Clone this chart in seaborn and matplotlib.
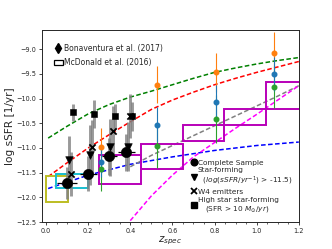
import matplotlib
matplotlib.use("Agg")
import matplotlib.pyplot as plt
from matplotlib.lines import Line2D
from matplotlib.patches import Patch, Rectangle
from matplotlib.ticker import MultipleLocator
import pandas as pd
import seaborn as sns

# model curves
green_z = [0.01, 0.1, 0.2, 0.3, 0.4, 0.5, 0.6, 0.7, 0.8, 0.9, 1.0, 1.1, 1.2]
green_v = [-10.80, -10.56, -10.31, -10.12, -9.97, -9.85, -9.72, -9.59, -9.47, -9.38, -9.30, -9.23, -9.17]
red_z = [0.01, 0.1, 0.2, 0.3, 0.4, 0.5, 0.6, 0.7, 0.8, 0.9, 1.0, 1.1, 1.2]
red_v = [-11.58, -11.30, -11.00, -10.73, -10.47, -10.22, -10.03, -9.87, -9.72, -9.59, -9.47, -9.36, -9.25]
blue_z = [0.01, 0.2, 0.4, 0.6, 0.8, 1.0, 1.2]
blue_v = [-11.82, -11.55, -11.33, -11.18, -11.05, -10.95, -10.88]
gray_z = [0.40, 0.5, 0.6, 0.7, 0.8, 0.9, 1.0, 1.1, 1.2]
gray_v = [-11.38, -11.15, -10.95, -10.75, -10.55, -10.35, -10.15, -9.95, -9.74]
mag_z = [0.40, 0.5, 0.6, 0.7, 0.8, 0.9, 1.0, 1.1, 1.2]
mag_v = [-12.47, -11.97, -11.55, -11.18, -10.89, -10.60, -10.32, -10.03, -9.74]

# Bonaventura et al. (2017)
bon_z = [0.26, 0.527, 0.805, 1.08]
bon_orange = [-10.97, -9.72, -9.47, -9.08]
bon_orange_err = [0.38, 0.37, 0.40, 0.42]
bon_blue = [-11.29, -10.53, -10.07, -9.50]
bon_blue_err = [0.30, 0.35, 0.35, 0.35]
bon_green = [-11.42, -10.96, -10.41, -9.77]
bon_green_err = [0.46, 0.44, 0.48, 0.42]

# McDonald et al. (2016) boxes + two local boxes
box_zlo = [0.253, 0.449, 0.649, 0.846, 1.045, 0.0, 0.046]
box_zhi = [0.449, 0.649, 0.846, 1.045, 1.25, 0.105, 0.198]
box_vlo = [-11.73, -11.42, -10.85, -10.53, -10.21, -12.10, -11.80]
box_vhi = [-11.14, -10.91, -10.53, -10.21, -9.66, -11.57, -11.52]
box_col = ["#b800b8", "#b800b8", "#b800b8", "#b800b8", "#b800b8", "#bcbd22", "#17becf"]

# samples
circ_z = [0.10, 0.20, 0.30, 0.38]
circ_v = [-11.71, -11.52, -11.17, -11.09]
circ_err = [0.32, 0.35, 0.38, 0.38]
circ_zerr = [0.047, 0.04, 0.035, 0.04]
tri_z = [0.11, 0.207, 0.305, 0.388]
tri_v = [-11.25, -11.14, -10.99, -10.97]
tri_err = [0.50, 0.60, 0.58, 0.50]
x_z = [0.12, 0.218, 0.317, 0.40]
x_v = [-11.53, -10.98, -10.65, -10.35]
x_err = [0.45, 0.55, 0.50, 0.45]
sq_z = [0.13, 0.23, 0.328, 0.41]
sq_v = [-10.28, -10.31, -10.36, -10.36]
sq_err = [0.18, 0.28, 0.25, 0.30]

sns.set_style("ticks")
plt.rcParams["font.family"] = ["DejaVu Sans"]

fig, ax = plt.subplots(figsize=(3.32, 2.49), dpi=100)
fig.subplots_adjust(left=0.126, right=0.90, bottom=0.108, top=0.88)

curves = [(green_z, green_v, "g"), (red_z, red_v, "r"), (blue_z, blue_v, "b"),
          (gray_z, gray_v, "gray"), (mag_z, mag_v, "#ff00ff")]
for zz, vv, c in curves:
    sns.lineplot(x=zz, y=vv, color=c, lw=1.1, ax=ax, zorder=2).lines[-1].set_dashes((3, 1.6))

for zl, zh, vl, vh, c in zip(box_zlo, box_zhi, box_vlo, box_vhi, box_col):
    ax.add_patch(Rectangle((zl, vl), zh - zl, vh - vl, fill=False,
                           edgecolor=c, lw=1.4, zorder=3))

for vals, errs, c in [(bon_orange, bon_orange_err, "tab:orange"),
                      (bon_green, bon_green_err, "tab:green"),
                      (bon_blue, bon_blue_err, "tab:blue")]:
    ax.errorbar(bon_z, vals, yerr=errs, fmt="o", color=c, ms=3.3, lw=0.8, zorder=4)

# gray error bars of the samples
for zz, vv, ee in [(circ_z, circ_v, circ_err), (tri_z, tri_v, tri_err),
                   (x_z, x_v, x_err), (sq_z, sq_v, sq_err)]:
    ax.errorbar(zz, vv, yerr=ee, fmt="none", ecolor="gray", elinewidth=2.1,
                alpha=0.8, zorder=4)
ax.errorbar(circ_z, circ_v, xerr=circ_zerr, fmt="none", ecolor="black",
            elinewidth=0.9, zorder=5)

df = pd.concat([
    pd.DataFrame({"z": circ_z, "v": circ_v, "kind": "circ"}),
    pd.DataFrame({"z": tri_z, "v": tri_v, "kind": "tri"}),
    pd.DataFrame({"z": x_z, "v": x_v, "kind": "x"}),
    pd.DataFrame({"z": sq_z, "v": sq_v, "kind": "sq"}),
])
sizes = {"circ": 55, "tri": 30, "x": 20, "sq": 22}
marks = {"circ": "o", "tri": "v", "x": "x", "sq": "s"}
for k, sub in df.groupby("kind"):
    sns.scatterplot(data=sub, x="z", y="v", marker=marks[k], s=sizes[k],
                    color="black", edgecolor="black",
                    linewidth=1.3 if k == "x" else 0.4, ax=ax,
                    zorder=6, legend=False)

ax.set_xlim(-0.02, 1.2)
ax.set_ylim(-12.5, -8.61)
ax.xaxis.set_minor_locator(MultipleLocator(0.05))
ax.yaxis.set_major_locator(MultipleLocator(0.5))
ax.tick_params(axis="both", which="major", labelsize=4.7, length=2.5, width=0.6, pad=1.5)
ax.tick_params(axis="x", which="minor", length=1.5, width=0.5)
for s in ax.spines.values():
    s.set_linewidth(0.7)
ax.set_xlabel("$z_{spec}$", fontsize=7.5, labelpad=1)
ax.set_ylabel("log sSFR [1/yr]", fontsize=7.6, labelpad=1)

h1 = [Line2D([], [], marker="d", color="black", ls="none", ms=4.8),
      Patch(facecolor="white", edgecolor="black", lw=0.9)]
leg1 = ax.legend(h1, ["Bonaventura et al. (2017)", "McDonald et al. (2016)"],
                 loc="upper left", bbox_to_anchor=(0.03, 0.95), frameon=False,
                 fontsize=5.5, handlelength=1.1, handletextpad=0.2,
                 labelspacing=0.7, borderaxespad=0.2)
ax.add_artist(leg1)

h2 = [Line2D([], [], marker="o", color="black", ls="none", ms=4.8),
      Line2D([], [], marker="v", color="black", ls="none", ms=4.3),
      Line2D([], [], marker="x", color="black", ls="none", ms=3.8, mew=1.3),
      Line2D([], [], marker="s", color="black", ls="none", ms=3.8)]
lab2 = ["Complete Sample",
        "Star-forming\n  $(log(sSFR/yr^{-1})$ > -11.5)",
        "W4 emitters",
        "High star star-forming\n   (SFR > 10 $M_{\\odot}/yr$)"]
ax.legend(h2, lab2, loc="lower left", bbox_to_anchor=(0.565, 0.02), frameon=False,
          fontsize=5.3, handlelength=0.6, handletextpad=0.25, labelspacing=0.2,
          borderaxespad=0.2)

fig.savefig("out.png", dpi=100)
